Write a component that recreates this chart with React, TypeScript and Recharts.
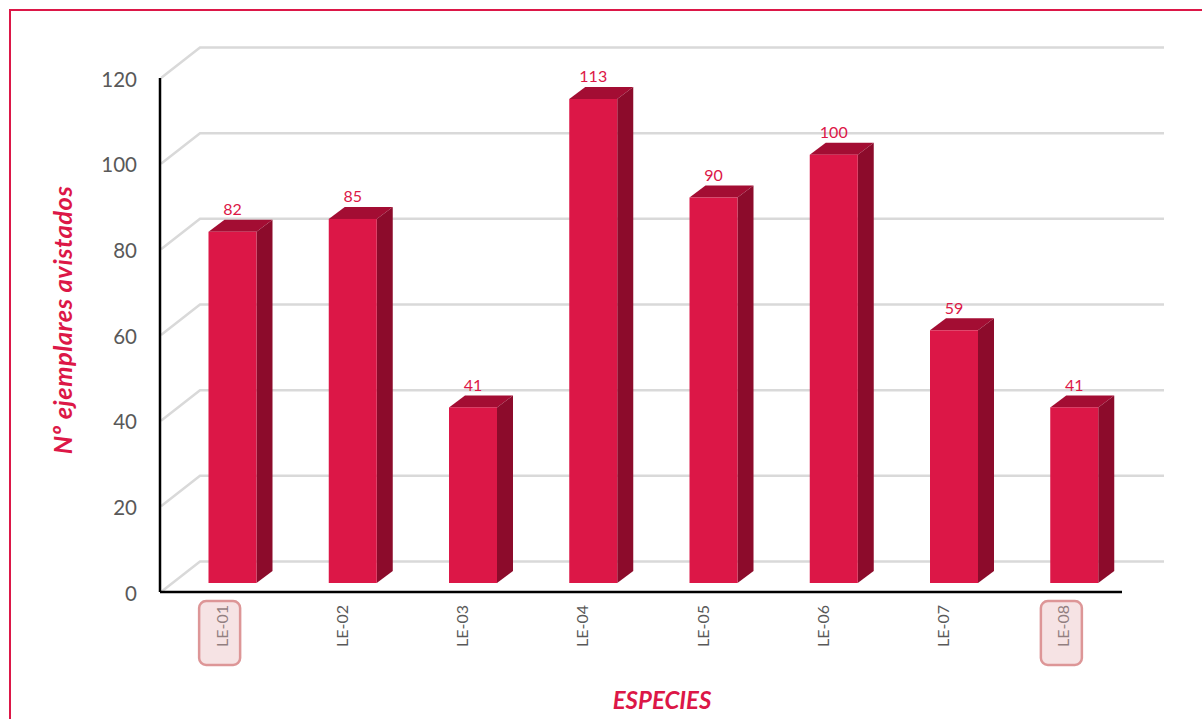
import React from "react";
import {
  BarChart,
  Bar,
  XAxis,
  YAxis,
  CartesianGrid,
  LabelList,
} from "recharts";

const species = ["LE-01", "LE-02", "LE-03", "LE-04", "LE-05", "LE-06", "LE-07", "LE-08"];
const sightings = [82, 85, 41, 113, 90, 100, 59, 41];
const yTicks = [0, 20, 40, 60, 80, 100, 120];
const boxedSpecies = ["LE-01", "LE-08"];

const data = species.map((name, i) => ({ name, value: sightings[i] }));

const CRIMSON = "#DC1747";
const FONT = "Lato, sans-serif";

// fake 3D: how far the front face is pushed from the axes, and the extrusion depth
const SHIFT_X = 12.5;
const SHIFT_Y = -9;
const DEPTH_X = 16;
const DEPTH_Y = 12;

const Bar3D = (props: any) => {
  const { x, y, width, height } = props;
  const l = x + SHIFT_X;
  const r = l + width;
  const t = y + SHIFT_Y;
  const b = t + height;
  return (
    <g>
      <polygon
        points={`${l},${t} ${l + DEPTH_X},${t - DEPTH_Y} ${r + DEPTH_X},${t - DEPTH_Y} ${r},${t}`}
        fill="#A30D33"
      />
      <polygon
        points={`${r},${t} ${r + DEPTH_X},${t - DEPTH_Y} ${r + DEPTH_X},${b - DEPTH_Y} ${r},${b}`}
        fill="#8C0B2B"
      />
      <rect x={l} y={t} width={width} height={height} fill={CRIMSON} />
    </g>
  );
};

const BarValue = (props: any) => {
  const { x, y, width, value } = props;
  return (
    <text
      x={x + width / 2 + SHIFT_X}
      y={y + SHIFT_Y - 23}
      textAnchor="middle"
      dominantBaseline="central"
      fontFamily={FONT}
      fontSize={16}
      fill={CRIMSON}
    >
      {value}
    </text>
  );
};

// gridlines run along the left wall (diagonal) and then along the back wall
const WallLine = (props: any) => {
  const { x1, x2, y1, index } = props;
  const backY = y1 - 30.5;
  return (
    <polyline
      key={index}
      points={`${x1 + 1},${y1} ${x1 + 40},${backY} ${x2 + 42},${backY}`}
      fill="none"
      stroke="#D9D9D9"
      strokeWidth={2.5}
    />
  );
};

const SpeciesTick = (props: any) => {
  const { x, y, payload } = props;
  const boxed = boxedSpecies.includes(payload.value);
  return (
    <g>
      <text
        transform={`translate(${x + 1},${y + 26}) rotate(-90)`}
        textAnchor="middle"
        dominantBaseline="central"
        fontFamily={FONT}
        fontSize={16}
        fill="#595959"
      >
        {payload.value}
      </text>
      {boxed && (
        <rect
          x={x - 21}
          y={y + 1}
          width={41}
          height={64}
          rx={7}
          fill="#E8B9BC"
          fillOpacity={0.4}
          stroke="#DD9697"
          strokeWidth={2.5}
        />
      )}
    </g>
  );
};

const YTitle = (props: any) => {
  const { viewBox } = props;
  return (
    <text
      transform={`translate(62,${viewBox.y + viewBox.height / 2 - 15}) rotate(-90)`}
      textAnchor="middle"
      dominantBaseline="central"
      fontFamily={FONT}
      fontSize={25.5}
      fontWeight={700}
      fontStyle="italic"
      letterSpacing={0.5}
      fill={CRIMSON}
    >
      Nº ejemplares avistados
    </text>
  );
};

export default function App() {
  return (
    <div
      style={{
        position: "absolute",
        left: 0,
        top: 0,
        width: 1202,
        height: 719,
        overflow: "hidden",
        background: "#fff",
      }}
    >
      <div
        style={{
          position: "absolute",
          left: 9,
          top: 9,
          width: 1193,
          height: 710,
          boxSizing: "border-box",
          borderTop: `2px solid ${CRIMSON}`,
          borderLeft: `2px solid ${CRIMSON}`,
        }}
      />
      <div style={{ position: "absolute", left: 0, top: 0 }}>
        <BarChart
          width={1202}
          height={719}
          data={data}
          margin={{ top: 78, right: 80, bottom: 0, left: 0 }}
        >
          <CartesianGrid
            vertical={false}
            horizontal={(p: any) => <WallLine {...p} />}
            horizontalValues={yTicks}
          />
          <XAxis
            dataKey="name"
            height={127}
            interval={0}
            tickLine={false}
            axisLine={{ stroke: "#000", strokeWidth: 2.5 }}
            tick={<SpeciesTick />}
            label={{
              value: "ESPECIES",
              position: "insideBottom",
              offset: 10,
              dx: 21,
              fontFamily: FONT,
              fontSize: 24,
              fontWeight: 700,
              fontStyle: "italic",
              fill: CRIMSON,
            }}
          />
          <YAxis
            width={160}
            domain={[0, 120]}
            ticks={yTicks}
            tickLine={false}
            tickSize={0}
            tickMargin={23}
            axisLine={{ stroke: "#000", strokeWidth: 2.5 }}
            tick={{ fontFamily: FONT, fontSize: 20.5, fill: "#595959", dy: 1.5 }}
            label={<YTitle />}
          />
          <Bar dataKey="value" barSize={48} shape={<Bar3D />} isAnimationActive={false}>
            <LabelList dataKey="value" content={<BarValue />} />
          </Bar>
        </BarChart>
      </div>
    </div>
  );
}
